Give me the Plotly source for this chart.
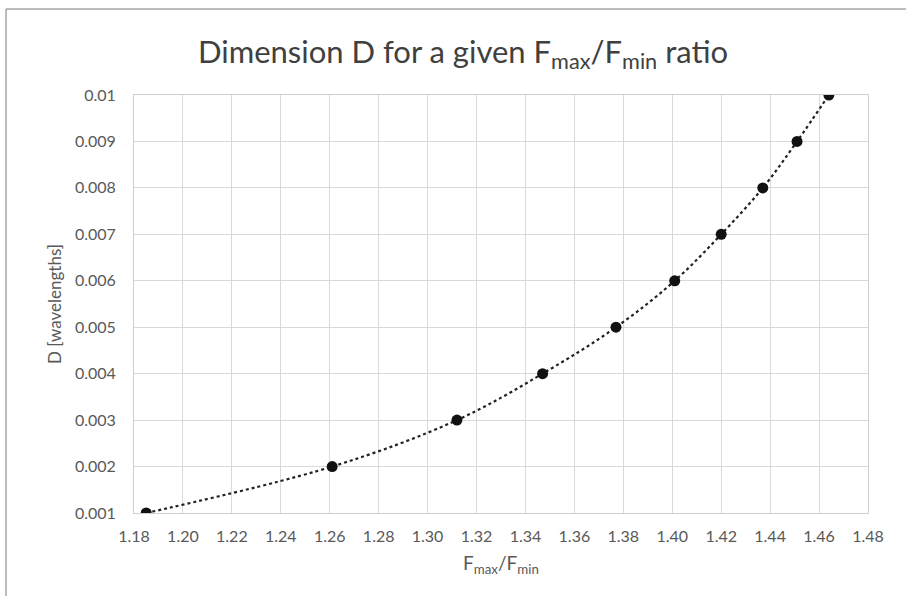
import plotly.graph_objects as go

ratio = [1.185, 1.261, 1.312, 1.347, 1.377, 1.401, 1.420, 1.437, 1.451, 1.464]
dimension = [0.001, 0.002, 0.003, 0.004, 0.005, 0.006, 0.007, 0.008, 0.009, 0.010]
y_ticks = [0.001, 0.002, 0.003, 0.004, 0.005, 0.006, 0.007, 0.008, 0.009, 0.010]
y_tick_labels = ["0.001", "0.002", "0.003", "0.004", "0.005", "0.006", "0.007", "0.008", "0.009", "0.01"]

FONT = "Lato, Open Sans, sans-serif"

fig = go.Figure()
fig.add_trace(go.Scatter(
    x=ratio, y=dimension, mode="lines+markers",
    line=dict(color="#222222", width=2.2, dash="dot", shape="spline", smoothing=1.0),
    marker=dict(color="#111111", size=11),
    showlegend=False, hoverinfo="skip",
))

W, H = 906, 596
L, R, T, B = 134, 38, 95, 83
pw, ph = W - L - R, H - T - B

def px(x):
    return (x - L) / pw

def py(y):
    return (H - B - y) / ph

fig.update_layout(
    width=W, height=H,
    margin=dict(l=L, r=R, t=T, b=B),
    paper_bgcolor="white", plot_bgcolor="white",
    font=dict(family=FONT, color="#595959", size=16),
    title=dict(
        text="Dimension D for a given F<sub>max</sub>/F<sub>min</sub> ratio",
        x=463 / W, xanchor="center", xref="container",
        y=1 - 52 / H, yanchor="middle", yref="container",
        font=dict(family=FONT, size=31, color="#404040"),
    ),
    xaxis=dict(
        range=[1.18, 1.48], dtick=0.02, tick0=1.18, tickformat=".2f",
        showgrid=True, gridcolor="#d9d9d9", gridwidth=1,
        showline=True, linecolor="#d0d0d0", linewidth=1, mirror=True,
        zeroline=False, ticks="", ticklabelstandoff=9,
        tickfont=dict(size=16, color="#595959"),
        title=dict(text="F<sub>max</sub>/F<sub>min</sub>", font=dict(size=19, color="#595959"), standoff=12),
    ),
    yaxis=dict(
        range=[0.001, 0.010], tickvals=y_ticks, ticktext=y_tick_labels,
        showgrid=True, gridcolor="#d9d9d9", gridwidth=1,
        showline=True, linecolor="#d0d0d0", linewidth=1, mirror=True,
        zeroline=False, ticks="", ticklabelstandoff=14,
        tickfont=dict(size=16, color="#595959"),
        title=dict(text="D [wavelengths]", font=dict(size=17, color="#595959"), standoff=8),
    ),
    shapes=[
        dict(type="line", xref="paper", yref="paper", x0=px(6), x1=px(906), y0=py(9), y1=py(9),
             line=dict(color="#a6a6a6", width=1.5)),
        dict(type="line", xref="paper", yref="paper", x0=px(6), x1=px(6), y0=py(9), y1=py(596),
             line=dict(color="#a6a6a6", width=1.5)),
    ],
)

fig.write_html("out.html")
